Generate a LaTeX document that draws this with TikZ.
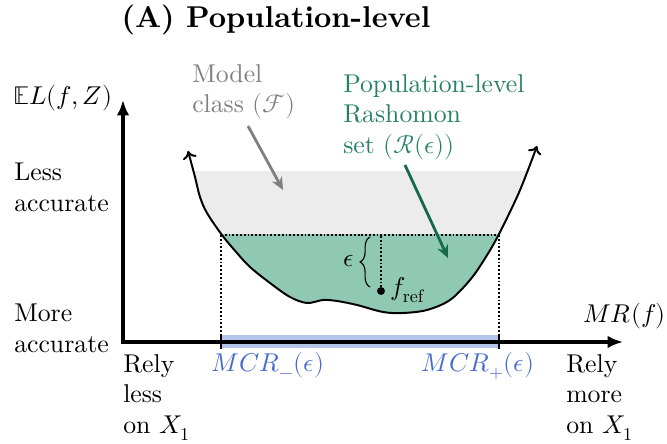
\documentclass[tikz,border=0pt]{standalone}
\usepackage{amsmath}
\usepackage{fontspec}
\usepackage{unicode-math}
\setmainfont{lmroman10-regular.otf}[BoldFont=lmroman10-bold.otf, ItalicFont=lmroman10-italic.otf, BoldItalicFont=lmroman10-bolditalic.otf]
\setmathfont{latinmodern-math.otf}
\usepackage{xcolor}
\usepackage{tikz}
\usetikzlibrary{arrows.meta, positioning, calc, decorations.pathreplacing}

\definecolor{classgray}{RGB}{236,236,236}
\definecolor{classtext}{RGB}{128,128,128}
\definecolor{setfill}{RGB}{143,201,180}
\definecolor{settext}{RGB}{38,128,100}
\definecolor{setarrow}{RGB}{22,105,75}
\definecolor{mcrtext}{RGB}{72,108,205}
\definecolor{mcrband}{RGB}{180,198,231}

\begin{document}
\begin{tikzpicture}[
    x=0.025cm, y=-0.025cm,
    font=\fontsize{18.3}{21.9}\selectfont,
    axis/.style={line width=2.2pt, line join=miter, {Latex[length=11pt, width=9pt]}-{Latex[length=11pt, width=9pt]}},
    lossline/.style={line width=1.4pt, {Computer Modern Rightarrow[length=5.5pt, width=10pt]}-{Computer Modern Rightarrow[length=5.5pt, width=10pt]}},
    cutline/.style={line width=1.3pt, dash pattern=on 1.3pt off 1.4pt},
    pointer/.style={line width=2pt, -{Stealth[length=9pt, width=8pt]}},
    tick/.style={line width=1.3pt},
    brace/.style={thick, decorate, decoration={brace, amplitude=7pt}},
    sidetext/.style={inner sep=0pt, align=left, anchor=north west},
]
\useasboundingbox (0,0) rectangle (667,444);

% Title
\node[font=\fontsize{21.4}{25}\selectfont\bfseries, anchor=base] (title) at (276,28) {(A) Population-level};

% Regions under the curve
\begin{scope}
  \clip (150,172) rectangle (560,235);
  \fill[classgray] plot[smooth, tension=0.55] coordinates {(188,151) (191,162) (195,177) (200,197) (207,213) (222,235) (237,253) (250,267) (270,283) (290,297) (307,303) (323,300) (337,301) (357,305) (383,312) (403,313) (427,310) (450,300) (470,280) (484,260) (498,236) (517,197) (528,170) (537,146)};
\end{scope}
\begin{scope}
  \clip (150,235) rectangle (560,340);
  \fill[setfill] plot[smooth, tension=0.55] coordinates {(188,151) (191,162) (195,177) (200,197) (207,213) (222,235) (237,253) (250,267) (270,283) (290,297) (307,303) (323,300) (337,301) (357,305) (383,312) (403,313) (427,310) (450,300) (470,280) (484,260) (498,236) (517,197) (528,170) (537,146)};
\end{scope}

% MCR band
\fill[mcrband] (221,335) rectangle (499,348);

% Cut lines
\coordinate (lcut) at (221,235);
\coordinate (rcut) at (499,235);
\coordinate (lfoot) at (221,341);
\coordinate (rfoot) at (499,341);
\draw[cutline] (lcut) -- (rcut);
\draw[cutline] (lcut) -- (lfoot);
\draw[cutline] (rcut) -- (rfoot);

% Reference model
\coordinate (ftop) at (381,236);
\coordinate (fref) at (381,291);
\draw[cutline] (ftop) -- (fref);
\fill (fref) circle (2.8pt);
\node[anchor=base west, inner sep=0pt] (freflabel) at (390,296) {$f_{\mathrm{ref}}$};
\coordinate (bbot) at (370,287);
\coordinate (btop) at (370,237);
\draw[brace] (bbot) -- (btop);
\node (epslabel) at (349,261) {$\epsilon$};

% Loss curve
\draw[lossline] plot[smooth, tension=0.55] coordinates {(188,151) (191,162) (195,177) (200,197) (207,213) (222,235) (237,253) (250,267) (270,283) (290,297) (307,303) (323,300) (337,301) (357,305) (383,312) (403,313) (427,310) (450,300) (470,280) (484,260) (498,236) (517,197) (528,170) (537,146)};

% Axes
\coordinate (origin) at (123,342);
\coordinate (ytip) at (123,100);
\coordinate (xtip) at (623,342);
\draw[axis] (ytip) -- (origin) -- (xtip);
\draw[tick] (221,334) -- (221,349);
\draw[tick] (499,334) -- (499,349);

% Axis labels
\node[anchor=base west, inner sep=0pt] (ylabel) at (13,105) {$\mathbb{E}L(f,Z)$};
\node[anchor=base west, inner sep=0pt] (xlabel) at (583,323) {$MR(f)$};
\node[sidetext] (less) at (14,163) {Less\\accurate};
\node[sidetext] (more) at (14,304) {More\\accurate};
\node[sidetext] (relyless) at (123,354) {Rely\\less\\on $X_1$};
\node[sidetext] (relymore) at (566,354) {Rely\\more\\on $X_1$};
\node[anchor=base, inner sep=0pt, mcrtext] (mcrminus) at (268,372) {$MCR_{-}(\epsilon)$};
\node[anchor=base, inner sep=0pt, mcrtext] (mcrplus) at (478,372) {$MCR_{+}(\epsilon)$};

% Model class
\node[sidetext, classtext] (model) at (192,64) {Model\\class $(\mathcal{F})$};
\coordinate (classfrom) at (248,126);
\coordinate (classto) at (283,190);
\draw[pointer, classtext] (classfrom) -- (classto);

% Rashomon set
\node[sidetext, settext] (rset) at (343,74) {Population-level\\Rashomon\\set $(\mathcal{R}(\epsilon))$};
\coordinate (setfrom) at (405,165);
\coordinate (setto) at (448,258);
\draw[pointer, setarrow] (setfrom) -- (setto);

\end{tikzpicture}
\end{document}
